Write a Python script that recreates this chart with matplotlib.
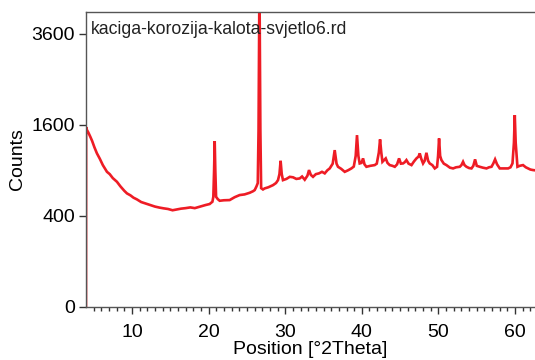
import numpy as np
import matplotlib.pyplot as plt

# 2theta positions (deg) and counts
two_theta = [4.00, 4.02, 4.09, 4.30, 4.57, 4.80, 5.10, 5.43, 5.80, 6.20, 6.74,
             7.10, 7.50, 8.04, 8.50, 9.00, 9.35, 9.80, 10.20, 10.65, 11.20,
             11.80, 12.40, 13.00, 13.60, 14.14, 14.70, 15.30, 15.87, 16.40,
             17.00, 17.62, 18.20, 18.70, 19.14, 19.60, 20.14, 20.50, 20.62,
             20.72, 20.80, 20.88, 20.98, 21.20, 21.45, 22.00, 22.75, 23.40,
             24.06, 24.70, 25.37, 25.80, 26.02, 26.25, 26.42, 26.52, 26.64,
             26.76, 26.86, 27.10, 27.32, 27.80, 28.41, 28.80, 29.06, 29.25,
             29.40, 29.55, 29.71, 30.16, 30.60, 31.02, 31.45, 31.89, 32.20,
             32.55, 32.90, 33.11, 33.35, 33.63, 34.00, 34.41, 34.80, 35.16,
             35.50, 35.81, 36.20, 36.46, 36.70, 36.89, 37.30, 37.77, 38.20,
             38.64, 38.95, 39.20, 39.37, 39.55, 39.72, 39.95, 40.16, 40.35,
             40.60, 41.10, 41.68, 41.95, 42.22, 42.38, 42.54, 42.69, 42.90,
             43.12, 43.35, 43.64, 44.00, 44.30, 44.60, 44.86, 45.10, 45.38,
             45.60, 45.82, 46.10, 46.48, 46.80, 47.13, 47.40, 47.56, 47.75,
             47.99, 48.20, 48.43, 48.65, 48.86, 49.20, 49.52, 49.82, 49.95,
             50.08, 50.22, 50.39, 50.70, 51.04, 51.50, 51.91, 52.30, 52.78,
             53.00, 53.21, 53.40, 53.66, 54.00, 54.31, 54.55, 54.78, 55.00,
             55.39, 55.80, 56.27, 56.60, 56.92, 57.15, 57.39, 57.65, 58.00,
             58.50, 59.09, 59.40, 59.66, 59.85, 59.96, 60.08, 60.31, 60.60,
             61.04, 61.40, 61.70, 62.00, 62.35, 62.60]
counts = [0, 1560, 1520, 1470, 1396, 1330, 1230, 1137, 1060, 970, 880,
          850, 800, 755, 700, 650, 621, 600, 575, 557, 530,
          515, 500, 485, 475, 468, 462, 450, 458, 465,
          470, 477, 470, 480, 490, 500, 510, 533, 584,
          900, 1326, 900, 584, 560, 543, 548, 550, 580,
          603, 610, 628, 645, 658, 700, 739, 1500, 5200,
          1500, 680, 665, 677, 690, 715, 740, 775, 850,
          1030, 850, 775, 790, 816, 810, 790, 796, 820,
          780, 830, 903, 840, 816, 850, 860, 880, 860,
          900, 925, 990, 1186, 990, 947, 920, 880, 900,
          925, 950, 1100, 1424, 1100, 993, 1000, 1064, 980,
          947, 960, 970, 990, 1150, 1354, 1150, 1016, 1040,
          1064, 1000, 970, 960, 947, 980, 1064, 990, 993,
          1010, 1040, 990, 970, 1020, 1064, 1090, 1137, 1060,
          993, 1030, 1146, 1030, 993, 970, 925, 947, 1100,
          1370, 1100, 1040, 990, 970, 935, 925, 940, 947,
          970, 1016, 970, 947, 930, 925, 960, 1050, 960,
          947, 935, 925, 940, 947, 990, 1050, 980, 925,
          925, 925, 940, 993, 1300, 1775, 1300, 947, 960,
          970, 940, 925, 910, 903, 900]

x_ticks = [10, 20, 30, 40, 50, 60]
y_ticks = [0, 400, 1600, 3600]
scan_name = "kaciga-korozija-kalota-svjetlo6.rd"

plt.rcParams["font.family"] = ["Liberation Sans", "DejaVu Sans"]

fig = plt.figure(figsize=(5.35, 3.6), dpi=100)
ax = fig.add_axes([0.1607, 0.148, 0.8393, 0.8186])

ax.plot(two_theta, counts, color="#ee1c25", lw=1.9, solid_joinstyle="miter")

ax.set_yscale("function", functions=(lambda v: np.sqrt(np.clip(v, 0, None)),
                                     lambda v: v ** 2))
ax.set_xlim(4, 62.6)
ax.set_ylim(0, 4200)
ax.set_xticks(x_ticks)
ax.set_xticks(np.arange(5, 63, 1), minor=True)
ax.set_yticks(y_ticks)
ax.set_yticks([], minor=True)

for side in ["left", "bottom", "top"]:
    ax.spines[side].set_color("#555555")
    ax.spines[side].set_linewidth(1.0)
ax.spines["right"].set_visible(False)

ax.tick_params(axis="both", which="major", labelsize=14, color="#333333",
               direction="out", width=1)
ax.tick_params(axis="x", which="major", length=5, pad=7.5)
ax.tick_params(axis="x", which="minor", direction="out", length=2.6,
               width=1, color="#333333")
ax.tick_params(axis="y", length=5, pad=3)

ax.set_xlabel("Position [°2Theta]", fontsize=14, labelpad=0)
ax.set_ylabel("Counts", fontsize=14, labelpad=4)

ax.text(0.01, 0.97, scan_name, transform=ax.transAxes, fontsize=12.7,
        va="top", ha="left", color="#222222")

fig.savefig("out.png", dpi=100)
